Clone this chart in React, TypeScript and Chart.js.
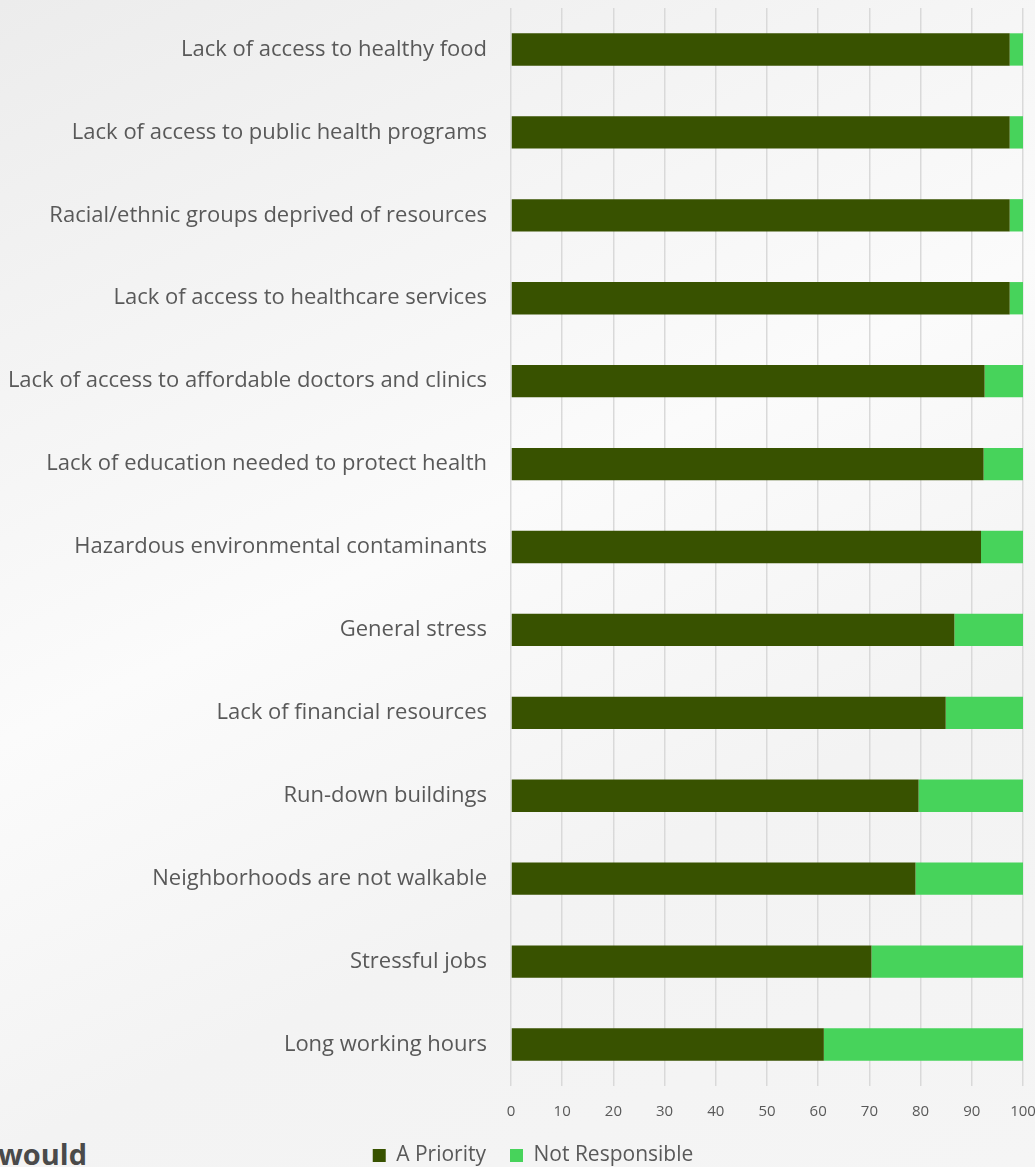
import React, { useEffect, useRef } from "react";
import { Chart, registerables } from "chart.js";

Chart.register(...registerables);

const categories = [
  "Lack of access to healthy food",
  "Lack of access to public health programs",
  "Racial/ethnic groups deprived of resources",
  "Lack of access to healthcare services",
  "Lack of access to affordable doctors and clinics",
  "Lack of education needed to protect health",
  "Hazardous environmental contaminants",
  "General stress",
  "Lack of financial resources",
  "Run-down buildings",
  "Neighborhoods are not walkable",
  "Stressful jobs",
  "Long working hours",
];

const aPriority = [97.4, 97.4, 97.4, 97.4, 92.5, 92.3, 91.8, 86.6, 84.9, 79.6, 79.0, 70.4, 61.1];
const notResponsible = [2.6, 2.6, 2.6, 2.6, 7.5, 7.7, 8.2, 13.4, 15.1, 20.4, 21.0, 29.6, 38.9];

const xTicks = [0, 10, 20, 30, 40, 50, 60, 70, 80, 90, 100];

const FONT = "'Open Sans', 'Noto Sans', sans-serif";
const TEXT = "#595959";

const shiftLegend = {
  id: "shiftLegend",
  afterLayout(chart: any) {
    if (chart.legend) {
      chart.legend.left += 43;
    }
  },
};

export default function App() {
  const ref = useRef<HTMLCanvasElement | null>(null);

  useEffect(() => {
    document.body.style.margin = "0";
    const ctx = ref.current!.getContext("2d")!;
    const chart = new Chart(ctx, {
      type: "bar",
      data: {
        labels: categories,
        datasets: [
          {
            label: "A Priority",
            data: aPriority,
            backgroundColor: "#385200",
            borderWidth: 0,
            barPercentage: 0.39,
            categoryPercentage: 1,
          },
          {
            label: "Not Responsible",
            data: notResponsible,
            backgroundColor: "#47d35b",
            borderWidth: 0,
            barPercentage: 0.39,
            categoryPercentage: 1,
          },
        ],
      },
      plugins: [shiftLegend],
      options: {
        indexAxis: "y",
        animation: false,
        responsive: false,
        maintainAspectRatio: false,
        layout: { autoPadding: false, padding: { left: 0, right: 12, top: 8, bottom: -9 } },
        plugins: {
          tooltip: { enabled: false },
          legend: {
            position: "bottom",
            labels: {
              boxWidth: 13,
              boxHeight: 13,
              padding: 24,
              color: TEXT,
              font: { family: FONT, size: 21 },
            },
          },
        },
        scales: {
          x: {
            stacked: true,
            min: 0,
            max: 100,
            afterBuildTicks: (scale: any) => {
              scale.ticks = xTicks.map((v) => ({ value: v }));
            },
            afterFit: (scale: any) => {
              scale.height = 35;
              scale.paddingLeft = 0;
              scale.paddingRight = 0;
            },
            grid: { color: "#d9d9d9", lineWidth: 1.5, drawTicks: false },
            border: { display: false },
            ticks: {
              color: TEXT,
              padding: 17,
              font: { family: FONT, size: 15 },
            },
          },
          y: {
            stacked: true,
            afterFit: (scale: any) => {
              scale.width = 511;
              scale.paddingTop = 0;
              scale.paddingBottom = 0;
            },
            grid: { display: false, drawTicks: false },
            border: { display: false },
            ticks: {
              color: TEXT,
              padding: 24,
              font: { family: FONT, size: 22 },
            },
          },
        },
      },
    });
    return () => chart.destroy();
  }, []);

  return (
    <div
      style={{
        position: "absolute",
        left: 0,
        top: 0,
        width: 1035,
        height: 1167,
        overflow: "hidden",
        background:
          "linear-gradient(155deg, #ececec 0%, #f6f6f6 30%, #fbfbfb 45%, #f3f3f3 70%, #f5f5f5 100%)",
      }}
    >
      <div
        style={{
          position: "absolute",
          left: -2,
          top: 1136,
          fontFamily: "'Open Sans', sans-serif",
          fontWeight: 700,
          fontSize: 29,
          color: "#4a4a4a",
          lineHeight: "36px",
        }}
      >
        would
      </div>
      <canvas ref={ref} width={1035} height={1167} style={{ position: "absolute", left: 0, top: 0 }} />
    </div>
  );
}
